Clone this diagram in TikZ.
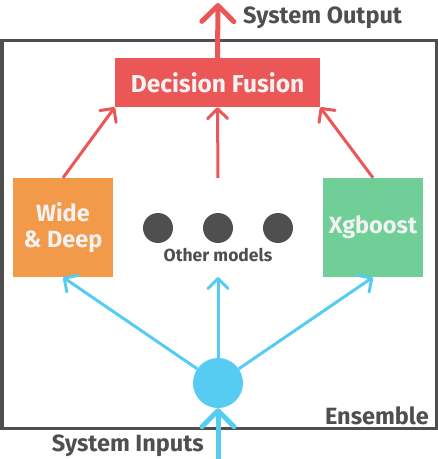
\documentclass[tikz,border=0pt]{standalone}
\usepackage{fontspec}
\setmainfont{Fira Sans}
\usetikzlibrary{arrows.meta}
\definecolor{cred}{HTML}{EB5757}
\definecolor{corange}{HTML}{F2994A}
\definecolor{cgreen}{HTML}{6FCF97}
\definecolor{cblue}{HTML}{56CCF2}
\definecolor{cgray}{HTML}{4F4F4F}
\definecolor{ctext}{HTML}{F2F2F2}
\begin{document}
\begin{tikzpicture}[x=1pt,y=-1pt,
  model/.style={fill=#1,draw=none,minimum width=100pt,minimum height=99pt,inner sep=0pt,text=ctext,font=\bfseries\fontsize{23.5}{27}\selectfont,align=center},
  smallarrow/.style={line width=3pt,-{Straight Barb[length=10pt,width=20pt,round]}},
  bigarrow/.style={line width=5pt,-{Straight Barb[length=16pt,width=32pt,round]}},
  lbl/.style={text=cgray,font=\bfseries\fontsize{23.5}{27}\selectfont,inner sep=0pt}]
\useasboundingbox (0,0) rectangle (438,459);
\draw[cgray,line width=3pt] (2,40) rectangle (436,428);
\node[fill=cred,minimum width=205pt,minimum height=49pt,inner sep=0pt,text=ctext,font=\bfseries\fontsize{24.5}{28}\selectfont] (df) at (217.5,82.5) {Decision Fusion};
\node[model=corange] (wd) at (63,227.5) {Wide\\[-1pt]\& Deep};
\node[model=cgreen] (xg) at (373,227.5) {Xgboost};
\node[circle,fill=cgray,minimum size=30pt,inner sep=0pt] (d1) at (158,228) {};
\node[circle,fill=cgray,minimum size=30pt,inner sep=0pt] (d2) at (218,228) {};
\node[circle,fill=cgray,minimum size=30pt,inner sep=0pt] (d3) at (278,228) {};
\node[text=cgray,font=\bfseries\fontsize{17.5}{20}\selectfont,inner sep=0pt] (om) at (218,255) {Other models};
\node[circle,fill=cblue,minimum size=50pt,inner sep=0pt] (in) at (218,383) {};
\coordinate (mt) at (218,178);
\coordinate (mb) at (218,277);
\coordinate (outtop) at (218,3);
\coordinate (inbot) at (218,459);
\draw[cred,smallarrow] (wd.north) -- (df.south west);
\draw[cred,smallarrow] (mt) -- (df.south);
\draw[cred,smallarrow] (xg.north) -- (df.south east);
\draw[cred,bigarrow] (df.north) -- (outtop);
\draw[cblue,smallarrow] (in) -- (wd.south);
\draw[cblue,smallarrow] (in) -- (mb);
\draw[cblue,smallarrow] (in) -- (xg.south);
\draw[cblue,bigarrow] (inbot) -- (in.south);
\node[lbl,anchor=west] (so) at (243,18) {System Output};
\node[lbl,anchor=east] (si) at (204,446) {System Inputs};
\node[lbl,anchor=east] (en) at (429,416) {Ensemble};
\end{tikzpicture}
\end{document}
